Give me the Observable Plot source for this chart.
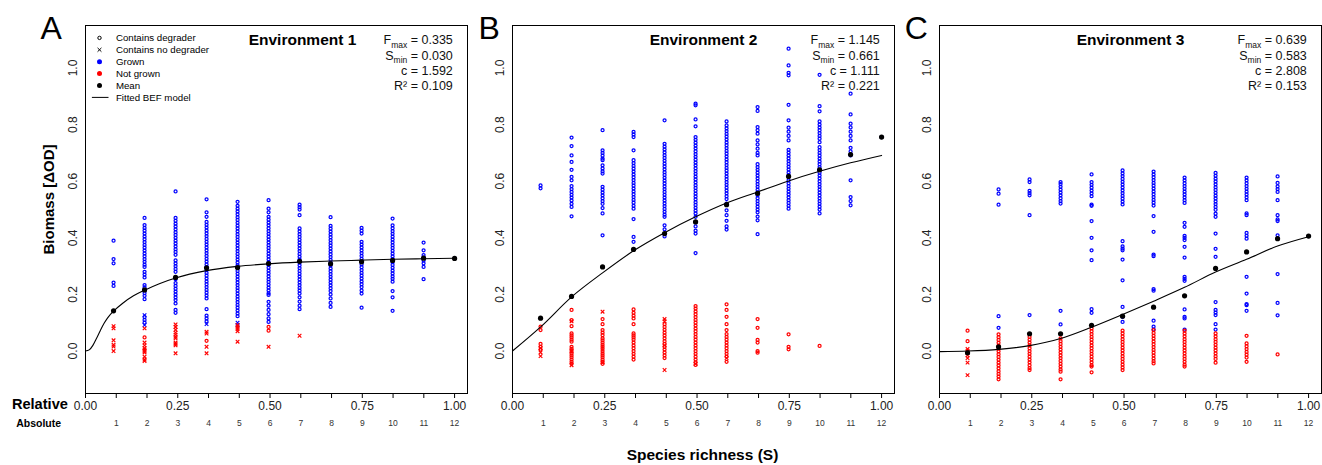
<!DOCTYPE html>
<html><head><meta charset="utf-8">
<script src="https://cdn.jsdelivr.net/npm/d3@7"></script>
<script src="https://cdn.jsdelivr.net/npm/@observablehq/plot@0.6"></script>
<style>
html,body{margin:0;padding:0;background:#fff;}
#chart{position:relative;width:1322px;height:465px;font-family:"Liberation Sans",Arial,Helvetica,sans-serif;}
#chart svg{position:absolute;top:0;overflow:visible;}
</style></head><body><div id="chart"></div>
<script>
// ---------- shared axis data ----------
const richness = [1,2,3,4,5,6,7,8,9,10,11,12];
// relative richness position of each column
const relX = [0.076,0.160,0.244,0.328,0.412,0.496,0.580,0.664,0.748,0.832,0.916,1.000];
const relTicks = [0,0.25,0.5,0.75,1];
const yTicks = [0,0.2,0.4,0.6,0.8,1.0];
const legendLabels = ["Contains degrader","Contains no degrader","Grown","Not grown","Mean","Fitted BEF model"];
const panelLetters = ["A","B","C"];
const envTitles = ["Environment 1","Environment 2","Environment 3"];
const env1Stats = ["Fmax = 0.335","Smin = 0.030","c = 1.592","R\u00b2 = 0.109"];
const env2Stats = ["Fmax = 1.145","Smin = 0.661","c = 1.111","R\u00b2 = 0.221"];
const env3Stats = ["Fmax = 0.639","Smin = 0.583","c = 2.808","R\u00b2 = 0.153"];

// ---------- Environment 1 ----------
const env1GrownDeg = [
 [0.39,0.325,0.31,0.242,0.23],
 [0.47,0.445,0.435,0.425,0.415,0.405,0.395,0.385,0.375,0.365,0.355,0.345,0.335,0.325,0.315,0.305,0.297,0.28,0.27,0.26,0.233,0.225,0.215,0.205,0.195,0.183,0.12,0.11,0.10],
 [0.564,0.47,0.46,0.45,0.44,0.43,0.42,0.41,0.4,0.39,0.38,0.37,0.36,0.35,0.34,0.32,0.31,0.3,0.29,0.28,0.254,0.24,0.23,0.22,0.21,0.2,0.19,0.18,0.168,0.145,0.135],
 [0.536,0.49,0.474,0.456,0.446,0.436,0.426,0.416,0.406,0.396,0.386,0.376,0.366,0.356,0.346,0.336,0.326,0.316,0.306,0.296,0.286,0.276,0.266,0.256,0.246,0.236,0.226,0.216,0.206,0.196,0.186,0.148,0.125,0.115,0.105],
 [0.527,0.513,0.503,0.493,0.483,0.473,0.463,0.453,0.443,0.433,0.423,0.413,0.403,0.393,0.383,0.373,0.363,0.353,0.343,0.333,0.323,0.313,0.303,0.293,0.283,0.273,0.263,0.253,0.243,0.233,0.223,0.213,0.203,0.193,0.183,0.173,0.163,0.153,0.143,0.133,0.123],
 [0.533,0.503,0.49,0.474,0.464,0.454,0.444,0.434,0.424,0.414,0.404,0.394,0.384,0.374,0.364,0.354,0.344,0.334,0.324,0.314,0.304,0.294,0.284,0.274,0.264,0.254,0.244,0.234,0.224,0.214,0.204,0.198,0.174,0.16,0.145,0.13,0.115,0.103],
 [0.517,0.508,0.5,0.48,0.433,0.423,0.413,0.403,0.393,0.383,0.373,0.363,0.353,0.343,0.333,0.323,0.313,0.303,0.293,0.283,0.273,0.263,0.253,0.243,0.233,0.223,0.213,0.203,0.19,0.175,0.16,0.148],
 [0.473,0.442,0.432,0.422,0.412,0.402,0.392,0.382,0.372,0.362,0.352,0.342,0.332,0.322,0.312,0.302,0.292,0.282,0.272,0.262,0.252,0.242,0.232,0.222,0.212,0.2,0.186,0.17,0.156],
 [0.435,0.425,0.415,0.386,0.376,0.366,0.356,0.346,0.336,0.326,0.316,0.306,0.296,0.286,0.276,0.266,0.256,0.246,0.236,0.226,0.214,0.203,0.153],
 [0.468,0.444,0.434,0.424,0.414,0.404,0.394,0.384,0.374,0.364,0.354,0.344,0.334,0.324,0.314,0.304,0.294,0.284,0.274,0.264,0.255,0.245,0.212,0.19,0.142],
 [0.383,0.356,0.339,0.33,0.32,0.31,0.297,0.254],
 [0.327]
];
const env1GrownNoDeg = [[],[0.127,0.092],[],[0.095],[0.1,0.092],[],[],[],[],[],[],[]];
const env1NotGrownDeg = [[],[0.048],[],[0.036],[],[0.085,0.072],[],[],[],[],[],[]];
const env1NotGrownNoDeg = [
 [0.088,0.08,0.038,0.022,0.016,0],
 [0.08,0.03,0.02,0.01,0.005,0,-0.005,-0.02,-0.03,-0.035],
 [0.094,0.085,0.075,0.065,0.058,0.05,0.045,0.03,0.025,0.02,-0.008],
 [0.068,0.062,0.015,-0.008],
 [0.092,0.085,0.078,0.07,0.033],
 [0.015],[0.054],[],[],[],[],[]
];
const env1Means = [0.142,0.216,0.260,0.294,0.295,0.309,0.317,0.308,0.315,0.320,0.328,0.327];
const env1Curve = [[0,0],[0.01,0.004],[0.02,0.02],[0.03,0.045],[0.04,0.072],[0.05,0.097],[0.06,0.117],[0.076,0.141],[0.1,0.168],[0.13,0.195],[0.16,0.215],[0.2,0.238],[0.244,0.258],[0.328,0.284],[0.412,0.299],[0.496,0.308],[0.58,0.314],[0.664,0.318],[0.748,0.321],[0.832,0.324],[0.916,0.326],[1,0.328]];

// ---------- Environment 2 ----------
const env2GrownDeg = [
 [0.585,0.575],
 [0.754,0.724,0.691,0.668,0.64,0.615,0.603,0.583,0.572,0.562,0.552,0.542,0.532,0.52,0.509,0.476],
 [0.78,0.709,0.7,0.69,0.68,0.674,0.656,0.645,0.635,0.627,0.58,0.57,0.56,0.55,0.54,0.53,0.52,0.505,0.486,0.409],
 [0.774,0.765,0.756,0.709,0.674,0.664,0.654,0.644,0.634,0.624,0.614,0.604,0.594,0.584,0.574,0.564,0.554,0.544,0.534,0.524,0.513,0.503,0.466,0.403,0.386],
 [0.815,0.732,0.722,0.712,0.702,0.692,0.682,0.672,0.662,0.652,0.642,0.632,0.622,0.612,0.602,0.592,0.582,0.572,0.562,0.552,0.542,0.532,0.522,0.512,0.502,0.492,0.482,0.474,0.444,0.43,0.415,0.405],
 [0.874,0.868,0.818,0.794,0.756,0.746,0.736,0.726,0.716,0.706,0.696,0.686,0.676,0.666,0.656,0.646,0.636,0.626,0.616,0.606,0.596,0.586,0.576,0.566,0.556,0.546,0.536,0.526,0.516,0.506,0.496,0.486,0.474,0.456,0.44,0.425,0.415,0.346],
 [0.811,0.797,0.787,0.777,0.767,0.757,0.747,0.737,0.727,0.717,0.707,0.697,0.687,0.677,0.667,0.657,0.647,0.637,0.627,0.617,0.607,0.597,0.587,0.577,0.567,0.557,0.547,0.537,0.521,0.497,0.48,0.46,0.44,0.429],
 [0.862,0.848,0.791,0.78,0.768,0.744,0.73,0.715,0.7,0.691,0.66,0.65,0.64,0.63,0.62,0.61,0.6,0.59,0.58,0.57,0.56,0.55,0.54,0.53,0.52,0.51,0.5,0.49,0.475,0.462,0.413],
 [1.068,1.009,0.983,0.974,0.87,0.815,0.789,0.775,0.76,0.744,0.711,0.701,0.691,0.681,0.671,0.661,0.651,0.641,0.631,0.621,0.603,0.593,0.583,0.573,0.563,0.553,0.543,0.533,0.523,0.513,0.503],
 [0.976,0.865,0.847,0.811,0.8,0.79,0.78,0.77,0.76,0.75,0.738,0.72,0.71,0.7,0.69,0.68,0.67,0.66,0.65,0.64,0.63,0.62,0.61,0.6,0.59,0.58,0.57,0.56,0.55,0.54,0.53,0.52,0.51,0.5,0.486],
 [0.909,0.836,0.803,0.79,0.775,0.76,0.744,0.718,0.705,0.691,0.603,0.544,0.53,0.515],
 [0.756]
];
const env2GrownNoDeg = [[],[],[],[],[],[],[],[],[],[],[],[]];
const env2NotGrownDeg = [
 [0.086,0.074,0.025,0.015,0.005],
 [0.145,0.109,0.088,0.062,0.055,0.048,0.04,0.033,0.015,0.008,0,-0.008,-0.015,-0.022,-0.03,-0.038,-0.045],
 [0.113,0.095,0.074,0.065,0.056,0.045,0.038,0.03,0.022,0.015,0.008,0,-0.008,-0.015,-0.022,-0.03,-0.038,-0.045],
 [0.147,0.135,0.125,0.115,0.095,0.062,0.055,0.048,0.04,0.03,0.02,0.01,0,-0.01,-0.02,-0.03],
 [0.095,0.085,0.075,0.065,0.055,0.045,0.035,0.025,0.015,0.005,-0.005,-0.015,-0.025],
 [0.159,0.15,0.14,0.13,0.12,0.11,0.1,0.09,0.08,0.07,0.06,0.05,0.04,0.03,0.02,0.01,0,-0.01,-0.02,-0.03,-0.04,-0.049],
 [0.165,0.145,0.121,0.095,0.074,0.06,0.05,0.04,0.03,0.02,0.01,0,-0.01,-0.02,-0.038],
 [0.113,0.082,0.039,0.03,0,-0.006],
 [0.059,0.015,0.006],
 [0.018],[],[]
];
const env2NotGrownNoDeg = [[0.01,-0.005,-0.018],[0.105,0,-0.05],[0.139,-0.04],[],[0.113,0.105,0.02,-0.067],[-0.045],[-0.025],[],[],[],[],[]];
const env2Means = [0.116,0.193,0.297,0.359,0.415,0.456,0.517,0.557,0.617,0.640,0.694,0.756];
const env2Curve = [[0,0],[0.077,0.086],[0.161,0.192],[0.244,0.276],[0.328,0.354],[0.412,0.418],[0.496,0.474],[0.58,0.523],[0.664,0.562],[0.748,0.601],[0.832,0.635],[0.916,0.665],[1,0.691]];

// ---------- Environment 3 ----------
const env3GrownDeg = [
 [],
 [0.571,0.556,0.517,0.123,0.082],
 [0.606,0.597,0.566,0.558,0.55,0.48,0.127],
 [0.597,0.59,0.58,0.57,0.56,0.55,0.54,0.53,0.521,0.142,0.094],
 [0.624,0.597,0.587,0.577,0.567,0.557,0.547,0.517,0.513,0.459,0.4,0.356,0.321,0.148,0.135],
 [0.638,0.628,0.618,0.608,0.598,0.588,0.578,0.568,0.558,0.548,0.538,0.528,0.518,0.388,0.37,0.362,0.356,0.323,0.25,0.156,0.121,0.103],
 [0.634,0.624,0.614,0.604,0.594,0.584,0.574,0.564,0.554,0.544,0.534,0.524,0.514,0.477,0.421,0.341,0.335,0.219,0.213,0.107,0.086,0.076],
 [0.613,0.603,0.593,0.583,0.573,0.563,0.553,0.543,0.533,0.523,0.453,0.439,0.407,0.4,0.392,0.368,0.33,0.262,0.255,0.248,0.147,0.121,0.115,0.076],
 [0.629,0.619,0.609,0.599,0.589,0.579,0.569,0.559,0.549,0.539,0.529,0.519,0.509,0.499,0.485,0.474,0.415,0.361,0.333,0.173,0.145,0.136,0.127,0.095,0.076],
 [0.613,0.603,0.593,0.583,0.573,0.563,0.553,0.543,0.533,0.486,0.48,0.417,0.407,0.397,0.262,0.203,0.166,0.162,0.142],
 [0.617,0.594,0.582,0.572,0.562,0.533,0.48,0.465,0.459,0.409,0.272,0.17,0.126],
 [0.406]
];
const env3GrownNoDeg = [[],[],[],[],[],[],[],[],[],[],[],[]];
const env3NotGrownDeg = [
 [0.072,0.035],
 [0.059,0.049,0.039,0.029,0.019,0.009,-0.001,-0.011,-0.021,-0.031,-0.041,-0.051,-0.061,-0.071,-0.081,-0.09,-0.1],
 [0.05,0.04,0.03,0.02,0.01,0,-0.01,-0.02,-0.03,-0.04,-0.05,-0.06,-0.067],
 [0.045,0.035,0.025,0.015,0.005,-0.005,-0.015,-0.025,-0.035,-0.045,-0.055,-0.065,-0.073,-0.1],
 [0.08,0.07,0.06,0.05,0.04,0.03,0.02,0.01,0,-0.01,-0.02,-0.03,-0.04,-0.05,-0.055,-0.075],
 [0.072,0.062,0.052,0.042,0.032,0.022,0.012,0.002,-0.008,-0.018,-0.028,-0.038,-0.048,-0.058,-0.067],
 [0.074,0.064,0.054,0.044,0.034,0.024,0.014,0.004,-0.006,-0.016,-0.026,-0.036,-0.044],
 [0.072,0.062,0.052,0.042,0.032,0.022,0.012,0.002,-0.008,-0.018,-0.028,-0.038,-0.048,-0.055],
 [0.062,0.052,0.042,0.032,0.022,0.012,0.002,-0.008,-0.018,-0.028,-0.041],
 [0.054,0.027,0.017,0.007,-0.003,-0.013,-0.023,-0.038],
 [-0.012],[]
];
const env3NotGrownNoDeg = [[0.007,0,-0.006,-0.015,-0.025,-0.041,-0.085],[],[],[],[],[],[],[],[],[],[],[]];
const env3Means = [-0.006,0.015,0.061,0.061,0.091,0.123,0.155,0.195,0.292,0.350,0.397,0.406];
const env3Curve = [[0,-0.002],[0.077,0],[0.161,0.006],[0.244,0.019],[0.328,0.044],[0.412,0.084],[0.496,0.129],[0.58,0.176],[0.664,0.225],[0.748,0.279],[0.832,0.324],[0.916,0.371],[1,0.404]];

// ---------- drawing ----------
const FONT = '"Liberation Sans", Arial, Helvetica, sans-serif';
const BLUE = "#0000ff", RED = "#ff0000";

function toRows(cols) {
  return cols.flatMap((vals, i) => vals.map(v => ({S: richness[i], x: relX[i], y: v})));
}

const dashSymbol = {draw(ctx, size) { const r = Math.sqrt(size / Math.PI); ctx.moveTo(-r, 0); ctx.lineTo(r, 0); }};

function legendMarks() {
  const specs = [
    {symbol: "circle", stroke: "#000", fill: "none", r: 1.7},
    {symbol: "times", stroke: "#000", fill: "none", r: 1.9},
    {symbol: "circle", fill: BLUE, stroke: "none", r: 2.5},
    {symbol: "circle", fill: RED, stroke: "none", r: 2.5},
    {symbol: "circle", fill: "#000", stroke: "none", r: 2.5},
    {symbol: dashSymbol, stroke: "#000", fill: "none", r: 8.3}
  ];
  const out = [];
  legendLabels.forEach((label, i) => {
    const dy = 12.4 + 11.9 * i;
    const s = specs[i];
    out.push(Plot.dot([label], {frameAnchor: "top-left", dx: i === 5 ? 14.7 : 14, dy, symbol: s.symbol, r: s.r, stroke: s.stroke, fill: s.fill, strokeWidth: 1}));
    out.push(Plot.text([label], {frameAnchor: "top-left", dx: 30.4, dy, text: d => d, textAnchor: "start", lineAnchor: "middle", fontSize: 9.7, fill: "#000", fontFamily: FONT}));
  });
  return out;
}

function panel(cfg) {
  const tickPos = [0, ...richness].map(s => s / 12);
  const marks = [
    Plot.dot(toRows(cfg.grownDeg), {x: "x", y: "y", r: 1.5, stroke: BLUE, strokeWidth: 1.25, fill: "none"}),
    Plot.dot(toRows(cfg.grownNoDeg), {x: "x", y: "y", symbol: "times", r: 1.8, stroke: BLUE, strokeWidth: 1.15}),
    Plot.dot(toRows(cfg.notGrownDeg), {x: "x", y: "y", r: 1.5, stroke: RED, strokeWidth: 1.25, fill: "none"}),
    Plot.dot(toRows(cfg.notGrownNoDeg), {x: "x", y: "y", symbol: "times", r: 1.8, stroke: RED, strokeWidth: 1.15}),
    Plot.line(cfg.curve, {x: d => d[0], y: d => d[1], curve: "monotone-x", stroke: "#000", strokeWidth: 1.1}),
    Plot.dot(cfg.means.map((m, i) => ({x: relX[i], y: m})), {x: "x", y: "y", r: 2.6, fill: "#000", stroke: "none"}),
    Plot.frame({stroke: "#000", strokeWidth: 1}),
    Plot.axisX(tickPos, {tickSize: 5, tickFormat: () => "", stroke: "#000", label: null}),
    Plot.text(relTicks, {x: d => d, frameAnchor: "bottom", dy: 16.5, lineAnchor: "bottom", text: d => d.toFixed(2), fontSize: 12, fill: "#222", fontFamily: FONT}),
    Plot.text(richness, {x: d => d / 12, frameAnchor: "bottom", dy: 32.7, lineAnchor: "bottom", text: d => String(d), fontSize: 8.5, fill: "#333", fontFamily: FONT}),
    Plot.text(yTicks, {y: d => d, frameAnchor: "left", dx: -8.6, rotate: -90, textAnchor: "middle", lineAnchor: "bottom", text: d => d.toFixed(1), fontSize: 12, fill: "#222", fontFamily: FONT}),
    Plot.text([cfg.title], {frameAnchor: "top", dx: cfg.titleDx, dy: 19.7, lineAnchor: "bottom", text: d => d, fontSize: 15.5, fontWeight: "bold", fill: "#000", fontFamily: FONT}),
    Plot.text([cfg.letter], {frameAnchor: "top-left", dx: cfg.letterDx, dy: 13, lineAnchor: "bottom", textAnchor: "middle", text: d => d, fontSize: 32, fill: "#000", fontFamily: FONT}),
    ...cfg.stats.map((s, i) => Plot.text([s], {frameAnchor: "top-right", dx: -14.7, dy: [18.7, 34, 49.6, 64.7][i], textAnchor: "end", lineAnchor: "bottom", text: d => d, fontSize: 12.5, fill: "#111", fontFamily: FONT}))
  ];
  if (cfg.first) {
    marks.push(...legendMarks());
    marks.push(Plot.text(["Biomass [\u0394OD]"], {frameAnchor: "left", dx: -32, dy: -10, rotate: -90, textAnchor: "middle", lineAnchor: "bottom", text: d => d, fontSize: 15, fontWeight: "bold", fill: "#000", fontFamily: FONT}));
    marks.push(Plot.text(["Relative"], {frameAnchor: "bottom-left", dx: -73.6, dy: 15.7, textAnchor: "start", lineAnchor: "bottom", text: d => d, fontSize: 14.6, fontWeight: "bold", fill: "#000", fontFamily: FONT}));
    marks.push(Plot.text(["Absolute"], {frameAnchor: "bottom-left", dx: -69.3, dy: 33.4, textAnchor: "start", lineAnchor: "bottom", text: d => d, fontSize: 10.5, fontWeight: "bold", fill: "#000", fontFamily: FONT}));
  }
  if (cfg.xlabel) {
    marks.push(Plot.text([cfg.xlabel], {frameAnchor: "bottom", dx: -1, dy: 66.7, lineAnchor: "bottom", text: d => d, fontSize: 15.5, fontWeight: "bold", fill: "#000", fontFamily: FONT}));
  }
  const svg = Plot.plot({
    width: cfg.width, height: 465,
    marginLeft: cfg.marginLeft, marginRight: 1, marginTop: 25, marginBottom: 72,
    x: {domain: [0, 1.035], axis: null},
    y: {domain: [-0.15, 1.15], axis: null},
    style: {background: "transparent", overflow: "visible", fontFamily: FONT},
    marks
  });
  svg.style.left = cfg.left + "px";
  // subscripts for F_max and S_min
  svg.querySelectorAll("text").forEach(t => {
    const m = /^([FS])(max|min)( = .*)$/.exec(t.textContent);
    if (!m) return;
    const ns = "http://www.w3.org/2000/svg";
    t.textContent = m[1];
    const sub = document.createElementNS(ns, "tspan");
    sub.setAttribute("dy", "3.5"); sub.setAttribute("font-size", "8.5"); sub.textContent = m[2];
    const rest = document.createElementNS(ns, "tspan");
    rest.setAttribute("dy", "-3.5"); rest.textContent = m[3];
    t.appendChild(sub); t.appendChild(rest);
  });
  return svg;
}

const chart = document.getElementById("chart");
chart.appendChild(panel({left: 0, width: 468, marginLeft: 85, first: true, letter: panelLetters[0], letterDx: -34.3, title: envTitles[0], titleDx: 26, stats: env1Stats,
  grownDeg: env1GrownDeg, grownNoDeg: env1GrownNoDeg, notGrownDeg: env1NotGrownDeg, notGrownNoDeg: env1NotGrownNoDeg, means: env1Means, curve: env1Curve}));
chart.appendChild(panel({left: 468, width: 427, marginLeft: 44, letter: panelLetters[1], letterDx: -23.3, title: envTitles[1], titleDx: 0, stats: env2Stats, xlabel: "Species richness (S)",
  grownDeg: env2GrownDeg, grownNoDeg: env2GrownNoDeg, notGrownDeg: env2NotGrownDeg, notGrownNoDeg: env2NotGrownNoDeg, means: env2Means, curve: env2Curve}));
chart.appendChild(panel({left: 895, width: 427, marginLeft: 44, letter: panelLetters[2], letterDx: -23.3, title: envTitles[2], titleDx: 0, stats: env3Stats,
  grownDeg: env3GrownDeg, grownNoDeg: env3GrownNoDeg, notGrownDeg: env3NotGrownDeg, notGrownNoDeg: env3NotGrownNoDeg, means: env3Means, curve: env3Curve}));
</script></body></html>
